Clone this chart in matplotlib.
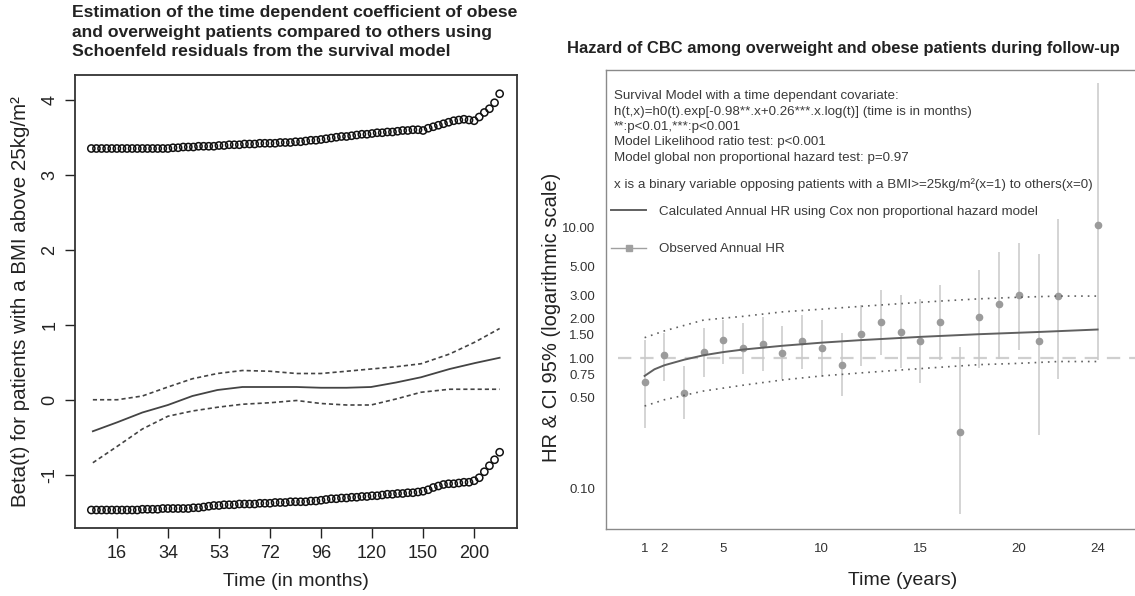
import matplotlib
matplotlib.use("Agg")
import matplotlib.pyplot as plt
from matplotlib.lines import Line2D

plt.rcParams['font.family'] = ['Liberation Sans', 'DejaVu Sans']

# ---------------- Left panel data ----------------
left_title = ("Estimation of the time dependent coefficient of obese\n"
              "and overweight patients compared to others using\n"
              "Schoenfeld residuals from the survival model")
left_ylabel = "Beta(t) for patients with a BMI above 25kg/m²"
left_xlabel = "Time (in months)"
month_ticks = [0, 1, 2, 3, 4, 5, 6, 7]
month_labels = ['16', '34', '53', '72', '96', '120', '150', '200']

resid_u = [-0.5, -0.4, -0.3, -0.2, -0.1, 0.0, 0.1, 0.2, 0.3, 0.4,
           0.5, 0.6, 0.7, 0.8, 0.9, 1.0, 1.1, 1.2, 1.3, 1.4,
           1.5, 1.6, 1.7, 1.8, 1.9, 2.0, 2.1, 2.2, 2.3, 2.4,
           2.5, 2.6, 2.7, 2.8, 2.9, 3.0, 3.1, 3.2, 3.3, 3.4,
           3.5, 3.6, 3.7, 3.8, 3.9, 4.0, 4.1, 4.2, 4.3, 4.4,
           4.5, 4.6, 4.7, 4.8, 4.9, 5.0, 5.1, 5.2, 5.3, 5.4,
           5.5, 5.6, 5.7, 5.8, 5.9, 6.0, 6.1, 6.2, 6.3, 6.4,
           6.5, 6.6, 6.7, 6.8, 6.9, 7.0, 7.1, 7.2, 7.3, 7.4, 7.5]
resid_upper = [3.35, 3.35, 3.35, 3.35, 3.35, 3.35, 3.35, 3.35, 3.35, 3.35,
               3.35, 3.35, 3.35, 3.35, 3.35, 3.35, 3.36, 3.36, 3.37, 3.37,
               3.37, 3.38, 3.38, 3.38, 3.38, 3.39, 3.39, 3.40, 3.40, 3.40,
               3.41, 3.41, 3.41, 3.42, 3.42, 3.42, 3.42, 3.43, 3.43, 3.43,
               3.44, 3.44, 3.45, 3.46, 3.46, 3.47, 3.48, 3.49, 3.50, 3.51,
               3.51, 3.52, 3.53, 3.54, 3.54, 3.55, 3.56, 3.56, 3.57, 3.57,
               3.58, 3.59, 3.59, 3.60, 3.60, 3.59, 3.62, 3.64, 3.66, 3.68,
               3.70, 3.72, 3.73, 3.74, 3.73, 3.72, 3.77, 3.83, 3.88, 3.96, 4.08]
resid_lower = [-1.47, -1.47, -1.47, -1.47, -1.47, -1.47, -1.47, -1.47, -1.47, -1.47,
               -1.46, -1.46, -1.46, -1.46, -1.45, -1.45, -1.45, -1.45, -1.45, -1.45,
               -1.44, -1.44, -1.43, -1.42, -1.41, -1.41, -1.40, -1.40, -1.40, -1.39,
               -1.39, -1.39, -1.39, -1.38, -1.38, -1.38, -1.37, -1.37, -1.37, -1.36,
               -1.36, -1.36, -1.36, -1.35, -1.35, -1.34, -1.33, -1.32, -1.32, -1.31,
               -1.31, -1.30, -1.30, -1.29, -1.29, -1.28, -1.28, -1.27, -1.26, -1.26,
               -1.25, -1.25, -1.24, -1.24, -1.23, -1.22, -1.20, -1.17, -1.15, -1.13,
               -1.12, -1.12, -1.11, -1.10, -1.10, -1.08, -1.04, -0.96, -0.88, -0.80, -0.70]

smooth_u = [-0.47, 0.01, 0.5, 1.0, 1.48, 1.97, 2.46, 3.0, 3.52, 4.0,
            4.5, 4.98, 5.47, 5.96, 6.52, 7.02, 7.5]
beta_fit = [-0.42, -0.30, -0.17, -0.07, 0.05, 0.13, 0.17, 0.17, 0.17, 0.16,
            0.16, 0.17, 0.23, 0.30, 0.41, 0.49, 0.56]
beta_hi = [0.0, 0.0, 0.05, 0.17, 0.28, 0.35, 0.39, 0.38, 0.35, 0.35,
           0.38, 0.41, 0.44, 0.48, 0.61, 0.77, 0.95]
beta_lo = [-0.84, -0.62, -0.39, -0.22, -0.15, -0.10, -0.06, -0.04, -0.01, -0.05,
           -0.07, -0.07, 0.01, 0.10, 0.14, 0.14, 0.14]

# ---------------- Right panel data ----------------
right_title = "Hazard of CBC among overweight and obese patients during follow-up"
right_ylabel = "HR & CI 95% (logarithmic scale)"
right_xlabel = "Time (years)"
year_ticks = [1, 2, 5, 10, 15, 20, 24]
hr_ticks = [0.10, 0.50, 0.75, 1.00, 1.50, 2.00, 3.00, 5.00, 10.00]

years = [1, 2, 3, 4, 5, 6, 7, 8, 9, 10, 11, 12, 13, 14, 15, 16, 17, 18, 19, 20, 21, 22, 24]
hr_obs = [0.66, 1.06, 0.54, 1.11, 1.38, 1.20, 1.27, 1.09, 1.36, 1.19, 0.89, 1.53,
          1.87, 1.59, 1.36, 1.87, 0.27, 2.07, 2.57, 3.05, 1.34, 2.96, 10.3]
hr_hi = [1.38, 1.56, 0.87, 1.69, 1.96, 1.84, 2.06, 1.75, 2.14, 1.96, 1.54, 2.56,
         3.33, 3.04, 2.83, 3.60, 1.22, 4.73, 6.40, 7.60, 6.25, 11.5, 125.0]
hr_lo = [0.29, 0.67, 0.34, 0.72, 0.90, 0.76, 0.79, 0.69, 0.82, 0.71, 0.51, 0.87,
         1.05, 0.84, 0.64, 0.96, 0.065, 0.84, 0.99, 1.15, 0.26, 0.69, 0.96]

curve_years = [1, 1.5, 2, 3, 4, 5, 6, 8, 10, 12, 15, 18, 21, 24]
hr_fit = [0.73, 0.82, 0.88, 0.97, 1.05, 1.11, 1.16, 1.24, 1.31, 1.37, 1.45, 1.52, 1.58, 1.65]
ci_years = [1, 2, 4, 6, 8, 10, 12, 14, 16, 18, 20, 22, 24]
ci_hi = [1.43, 1.61, 1.95, 2.08, 2.25, 2.36, 2.48, 2.60, 2.72, 2.83, 2.91, 2.97, 2.97]
ci_lo = [0.43, 0.48, 0.56, 0.62, 0.68, 0.73, 0.77, 0.81, 0.85, 0.89, 0.91, 0.94, 0.94]

model_text = ["Survival Model with a time dependant covariate:",
              "h(t,x)=h0(t).exp[-0.98**.x+0.26***.x.log(t)] (time is in months)",
              "**:p<0.01,***:p<0.001",
              "Model Likelihood ratio test: p<0.001",
              "Model global non proportional hazard test: p=0.97"]
binary_text = "x is a binary variable opposing patients with a BMI>=25kg/m²(x=1) to others(x=0)"
legend_labels = ["Calculated Annual HR using Cox non proportional hazard model",
                 "Observed Annual HR"]

# ---------------- Figure ----------------
W, H = 1135, 596
fig = plt.figure(figsize=(W / 100, H / 100), dpi=100)


def fx(px):
    return px / W


def fy(py):
    return 1 - py / H


# Left axes
axL = fig.add_axes([fx(75), fy(528), fx(517 - 75), (528 - 75) / H])
axL.scatter(resid_u, resid_upper, s=27, facecolors='none', edgecolors='#111111', linewidths=1.1)
axL.scatter(resid_u, resid_lower, s=27, facecolors='none', edgecolors='#111111', linewidths=1.1)
axL.plot(smooth_u, beta_fit, color='#444444', lw=1.3)
axL.plot(smooth_u, beta_hi, color='#444444', lw=1.2, ls=(0, (2.5, 1.8)))
axL.plot(smooth_u, beta_lo, color='#444444', lw=1.2, ls=(0, (2.5, 1.8)))
axL.set_xlim(-0.82, 7.84)
axL.set_ylim(-1.71, 4.33)
axL.set_xticks(month_ticks)
axL.set_xticklabels(month_labels)
axL.set_yticks([-1, 0, 1, 2, 3, 4])
axL.set_yticklabels(['-1', '0', '1', '2', '3', '4'], rotation=90, va='center')
axL.tick_params(direction='out', length=7, width=1, labelsize=13, colors='#222222', pad=5)
for s in axL.spines.values():
    s.set_linewidth(1.3)
    s.set_color('#333333')
axL.set_xlabel(left_xlabel, fontsize=14, color='#222222', labelpad=8)
axL.set_ylabel(left_ylabel, fontsize=14.8, color='#222222', labelpad=8)
fig.text(fx(72), fy(32), left_title, ha='left', va='center', fontsize=12.6,
         fontweight='bold', color='#222222', linespacing=1.38)

# Right axes
axR = fig.add_axes([fx(606), fy(529), fx(1200 - 606), (529 - 70) / H])
axR.set_yscale('log')
axR.set_xlim(-0.96, 29.2)
axR.set_ylim(0.0495, 158)
axR.axhline(1.0, xmin=0.02, color='#cfcfcf', lw=1.6, ls=(0, (6, 4)), zorder=1)
axR.vlines(years, hr_lo, hr_hi, color='#c9c9c9', lw=1.1, zorder=2)
axR.plot(years, hr_obs, 'o', color='#9b9b9b', ms=4.5, zorder=3)
l_fit, = axR.plot(curve_years, hr_fit, color='#606060', lw=1.4, zorder=4)
axR.plot(ci_years, ci_hi, color='#606060', lw=1.2, ls=(0, (1, 3)), zorder=4)
axR.plot(ci_years, ci_lo, color='#606060', lw=1.2, ls=(0, (1, 3)), zorder=4)
axR.set_yticks(hr_ticks)
axR.set_yticklabels(['%.2f' % v for v in hr_ticks])
axR.yaxis.set_minor_locator(matplotlib.ticker.NullLocator())
axR.set_xticks(year_ticks)
axR.set_xticklabels([str(v) for v in year_ticks])
axR.tick_params(axis='both', length=0, labelsize=9.5, colors='#333333')
axR.tick_params(axis='y', pad=8)
axR.tick_params(axis='x', pad=10)
for s in axR.spines.values():
    s.set_linewidth(1.0)
    s.set_color('#8a8a8a')
axR.set_xlabel(right_xlabel, fontsize=14, color='#222222', labelpad=12)
axR.set_ylabel(right_ylabel, fontsize=14.5, color='#222222')
axR.yaxis.set_label_coords(-0.075, 0.46)

fig.text(fx(567), fy(48), right_title, ha='left', va='center', fontsize=11.9,
         fontweight='bold', color='#222222')
for i, line in enumerate(model_text):
    fig.text(fx(614), fy(96 + 15.5 * i), line, ha='left', va='center', fontsize=9.6,
             color='#3a3a3a')
fig.text(fx(614), fy(185), binary_text, ha='left', va='center', fontsize=9.6, color='#3a3a3a')

obs_handle = Line2D([], [], color='#a0a0a0', lw=1.0, marker='s', ms=4, mfc='#a0a0a0', mec='#a0a0a0')
axR.legend([l_fit, obs_handle], legend_labels, loc='upper left',
           bbox_to_anchor=(0.0, 1 - (200 - 70) / (529 - 70)),
           frameon=False, fontsize=9.6, labelspacing=1.9, handlelength=2.6,
           handletextpad=1.0, borderaxespad=0.0, labelcolor='#3a3a3a')

fig.savefig('out.png', dpi=100)
